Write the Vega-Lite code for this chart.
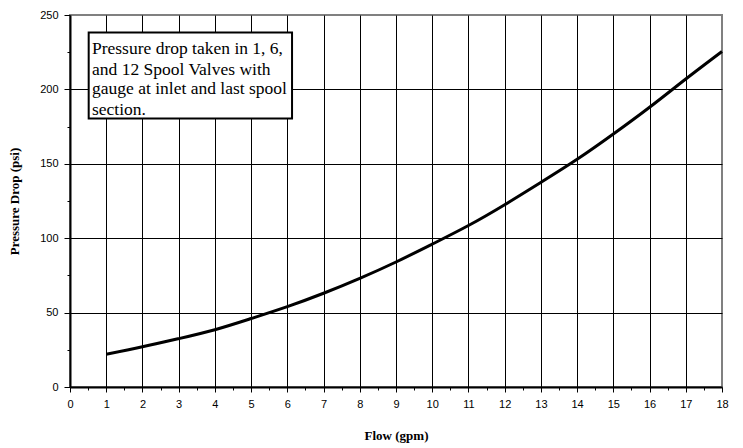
{
  "$schema": "https://vega.github.io/schema/vega-lite/v6.json",
  "width": 652,
  "height": 372,
  "autosize": "none",
  "padding": {"left": 70, "top": 15, "right": 21, "bottom": 61},
  "background": "white",
  "config": {
    "view": {"stroke": "#808080", "strokeWidth": 2},
    "axis": {
      "labelFont": "Liberation Sans",
      "labelFontSize": 11,
      "labelColor": "black",
      "titleFont": "Liberation Serif",
      "titleFontSize": 13,
      "titleFontWeight": "bold",
      "titleColor": "black",
      "domainColor": "black",
      "domainWidth": 2,
      "tickColor": "black",
      "gridOpacity": 1,
      "gridWidth": 1,
      "labelOverlap": false
    }
  },
  "datasets": {
    "curve": [
      {"flow": 1, "dp": 22},
      {"flow": 2, "dp": 27},
      {"flow": 3, "dp": 32.5},
      {"flow": 4, "dp": 38.5},
      {"flow": 5, "dp": 46},
      {"flow": 6, "dp": 54},
      {"flow": 7, "dp": 63},
      {"flow": 8, "dp": 73},
      {"flow": 9, "dp": 84},
      {"flow": 10, "dp": 96},
      {"flow": 11, "dp": 108.5},
      {"flow": 12, "dp": 122.5},
      {"flow": 13, "dp": 137.5},
      {"flow": 14, "dp": 153},
      {"flow": 15, "dp": 170},
      {"flow": 16, "dp": 188},
      {"flow": 17, "dp": 207},
      {"flow": 18, "dp": 225.5}
    ],
    "box": [{"x1": 0.516, "x2": 6.13, "y1": 180.4, "y2": 238.2}],
    "note": [
      {"x": 0.607, "y": 223.7, "t": "Pressure drop taken in 1, 6,"},
      {"x": 0.607, "y": 210, "t": "and 12 Spool Valves with"},
      {"x": 0.607, "y": 196.8, "t": "gauge at inlet and last spool"},
      {"x": 0.607, "y": 183.1, "t": "section."}
    ],
    "minor": [
      {"v": 0.5, "w": 25}, {"v": 1.5, "w": 75}, {"v": 2.5, "w": 125}, {"v": 3.5, "w": 175}, {"v": 4.5, "w": 225}, {"v": 5.5, "w": 25},
      {"v": 6.5, "w": 25}, {"v": 7.5, "w": 25}, {"v": 8.5, "w": 25}, {"v": 9.5, "w": 25}, {"v": 10.5, "w": 25}, {"v": 11.5, "w": 25},
      {"v": 12.5, "w": 25}, {"v": 13.5, "w": 25}, {"v": 14.5, "w": 25}, {"v": 15.5, "w": 25}, {"v": 16.5, "w": 25}, {"v": 17.5, "w": 25}
    ]
  },
  "resolve": {"axis": {"x": "independent", "y": "independent"}},
  "layer": [
    {
      "data": {"name": "minor"},
      "mark": {"type": "point", "opacity": 0},
      "encoding": {
        "x": {
          "field": "v", "type": "quantitative",
          "scale": {"domain": [0, 18], "nice": false},
          "axis": {
            "orient": "bottom",
            "title": null,
            "values": [0.5,1.5,2.5,3.5,4.5,5.5,6.5,7.5,8.5,9.5,10.5,11.5,12.5,13.5,14.5,15.5,16.5,17.5],
            "labels": false, "grid": false, "domain": false, "tickSize": 3
          }
        },
        "y": {
          "field": "w", "type": "quantitative",
          "scale": {"domain": [0, 250], "nice": false},
          "axis": {
            "orient": "left",
            "title": null,
            "values": [25, 75, 125, 175, 225],
            "labels": false, "grid": false, "domain": false, "tickSize": 3
          }
        }
      }
    },
    {
      "data": {"name": "curve"},
      "mark": {"type": "line", "color": "black", "strokeWidth": 3, "interpolate": "natural"},
      "encoding": {
        "x": {
          "field": "flow", "type": "quantitative",
          "scale": {"domain": [0, 18], "nice": false},
          "axis": {
            "orient": "bottom",
            "title": "Flow (gpm)",
            "values": [0,1,2,3,4,5,6,7,8,9,10,11,12,13,14,15,16,17,18],
            "grid": true,
            "gridColor": {"condition": {"test": "datum.value == 18 || datum.value == 0", "value": "transparent"}, "value": "black"},
            "tickSize": 5,
            "labelPadding": 6,
            "titlePadding": 20,
            "labelFlush": false
          }
        },
        "y": {
          "field": "dp", "type": "quantitative",
          "scale": {"domain": [0, 250], "nice": false},
          "axis": {
            "orient": "left",
            "title": "Pressure Drop (psi)",
            "values": [0, 50, 100, 150, 200, 250],
            "grid": true,
            "gridColor": {"condition": {"test": "datum.value == 250 || datum.value == 0", "value": "transparent"}, "value": "black"},
            "tickSize": 6,
            "labelPadding": 6,
            "titlePadding": 18
          }
        }
      }
    },
    {
      "data": {"name": "box"},
      "mark": {"type": "rect", "fill": "white", "stroke": "black", "strokeWidth": 2},
      "encoding": {
        "x": {"field": "x1", "type": "quantitative", "axis": null},
        "x2": {"field": "x2"},
        "y": {"field": "y1", "type": "quantitative", "axis": null},
        "y2": {"field": "y2"}
      }
    },
    {
      "data": {"name": "note"},
      "mark": {"type": "text", "align": "left", "baseline": "alphabetic", "font": "Liberation Serif", "fontSize": 17.5, "color": "black"},
      "encoding": {
        "x": {"field": "x", "type": "quantitative", "axis": null},
        "y": {"field": "y", "type": "quantitative", "axis": null},
        "text": {"field": "t"}
      }
    }
  ]
}
